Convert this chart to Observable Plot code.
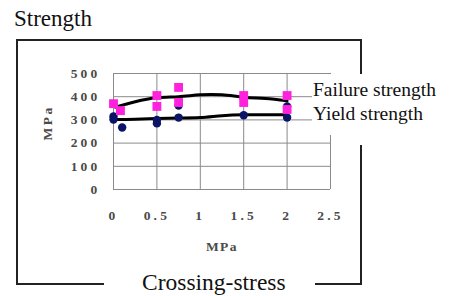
<!DOCTYPE html>
<html>
<head>
<meta charset="utf-8">
<script src="https://cdn.jsdelivr.net/npm/d3@7"></script>
<script src="https://cdn.jsdelivr.net/npm/@observablehq/plot@0.6"></script>
<style>
  html, body { margin: 0; padding: 0; background: #fff; }
  #wrap { position: relative; width: 469px; height: 296px; overflow: hidden; font-family: "Liberation Serif", "DejaVu Serif", serif; }
  #wrap svg { position: absolute; left: 0; top: 0; }
  #chart g[aria-label$="tick label"] text { letter-spacing: 3.2px; }
  #chart g[aria-label$="axis label"] text { letter-spacing: 1.5px; }
  #chart g[aria-label="text"] text { letter-spacing: 2.5px; }
  .seg { position: absolute; background: #222; }
  .txt { position: absolute; font-size: 19.5px; color: #111; white-space: nowrap; line-height: 1; }
  #legend { position: absolute; left: 312px; top: 74px; width: 157px; height: 61px; background: #fff; }
</style>
</head>
<body>
<div id="wrap">
  <div id="chart"></div>
</div>
<script>
// Failure strength measurements (MPa) vs crossing stress (MPa)
const failureX = [0, 0.08, 0.5, 0.5, 0.75, 0.75, 1.5, 1.5, 2, 2];
const failureY = [370, 340, 405, 358, 440, 375, 405, 375, 405, 345];
// Yield strength measurements
const yieldX = [0, 0, 0.1, 0.5, 0.5, 0.75, 0.75, 1.5, 2, 2];
const yieldY = [315, 302, 267, 285, 300, 362, 310, 320, 358, 310];
// Trend curves
const failTrendX = [0.02, 0.25, 0.5, 0.75, 1, 1.25, 1.5, 1.75, 2];
const failTrendY = [355, 378, 395, 400, 408, 408, 398, 392, 382];
const yieldTrendX = [0, 0.25, 0.5, 0.75, 1, 1.25, 1.5, 1.75, 2];
const yieldTrendY = [302, 303, 306, 308, 310, 318, 322, 322, 322];
const xTicks = [0, 0.5, 1, 1.5, 2, 2.5];
const yTicks = [0, 100, 200, 300, 400, 500];

const fail = failureX.map((x, i) => ({x, y: failureY[i]}));
const yld = yieldX.map((x, i) => ({x, y: yieldY[i]}));
const fT = failTrendX.map((x, i) => ({x, y: failTrendY[i]}));
const yT = yieldTrendX.map((x, i) => ({x, y: yieldTrendY[i]}));

const tickFont = {fontFamily: "Liberation Serif, DejaVu Serif, serif", fontSize: 13.5, fill: "#4a4a4a", fontWeight: "bold"};

const chart = Plot.plot({
  width: 469,
  height: 296,
  marginLeft: 113,
  marginRight: 139,
  marginTop: 73,
  marginBottom: 107,
  style: {background: "transparent", overflow: "visible"},
  x: {domain: [0, 2.5]},
  y: {domain: [0, 500]},
  marks: [
    Plot.gridX(xTicks, {stroke: "#8a8a8a", strokeOpacity: 1, strokeWidth: 1}),
    Plot.gridY(yTicks, {stroke: "#8a8a8a", strokeOpacity: 1, strokeWidth: 1}),
    Plot.axisX(xTicks, {tickSize: 0, tickPadding: 21, tickFormat: d => String(d), ...tickFont,
      label: "MPa", labelAnchor: "center", labelArrow: "none", labelOffset: 61}),
    Plot.axisY(yTicks, {tickSize: 0, tickPadding: 13, ...tickFont, label: null}),
    Plot.text(["MPa"], {frameAnchor: "left", dx: -66, dy: 9, rotate: -90, text: d => d, ...tickFont}),
    Plot.line(fT, {x: "x", y: "y", stroke: "#000", strokeWidth: 3, curve: "natural"}),
    Plot.line(yT, {x: "x", y: "y", stroke: "#000", strokeWidth: 3, curve: "natural"}),
    Plot.dot(yld, {x: "x", y: "y", r: 4.2, fill: "#0c1466", stroke: "none"}),
    Plot.dot(fail, {x: "x", y: "y", symbol: "square", r: 5, fill: "#ff22dd", stroke: "none"})
  ]
});
document.getElementById("chart").appendChild(chart);

const wrap = document.getElementById("wrap");
function seg(l, t, w, h) {
  const d = document.createElement("div");
  d.className = "seg";
  Object.assign(d.style, {left: l + "px", top: t + "px", width: w + "px", height: h + "px"});
  wrap.appendChild(d);
}
function txt(s, l, t, extra) {
  const d = document.createElement("div");
  d.className = "txt";
  d.textContent = s;
  Object.assign(d.style, {left: l + "px", top: t + "px"}, extra || {});
  wrap.appendChild(d);
  return d;
}
// frame box
seg(16, 39, 346, 2);      // top
seg(16, 39, 2, 246);      // left
seg(16, 283, 88, 2);      // bottom-left
seg(315, 283, 47, 2);     // bottom-right
seg(360, 39, 2, 35);      // right upper
seg(360, 145, 2, 140);    // right lower
// legend box
const lg = document.createElement("div");
lg.id = "legend";
wrap.appendChild(lg);
txt("Failure strength", 313, 80);
txt("Yield strength", 313, 104);
txt("Strength", 14, 7, {fontSize: "23px"});
txt("Crossing-stress", 142, 271, {fontSize: "23.5px"});
</script>
</body>
</html>
